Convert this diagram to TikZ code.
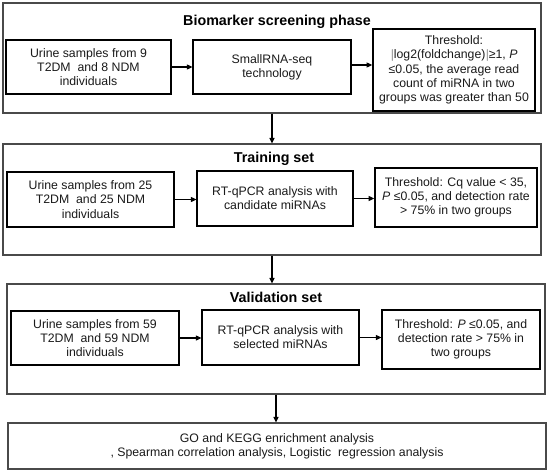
\documentclass[tikz,border=0pt]{standalone}
\usepackage{fontspec}
\setmainfont{Liberation Sans}
\usetikzlibrary{arrows.meta}
\definecolor{outerc}{HTML}{4A4A4A}
\definecolor{txt}{HTML}{1A1A1A}
\begin{document}
\begin{tikzpicture}[x=1pt,y=-1pt,
  outerbox/.style={draw=outerc, line width=1.1pt, inner sep=0pt},
  innerbox/.style={draw=black, line width=1.2pt, inner sep=0pt, align=center, text=txt,
    font=\fontsize{12.3}{14.2}\selectfont},
  thickbox/.style={innerbox, line width=1.7pt},
  phasetitle/.style={font=\bfseries\fontsize{14.3}{16}\selectfont, text=black, inner sep=0pt},
  arr/.style={draw=black, line width=1.1pt, -{Triangle[length=5.5pt,width=5pt]}}
]
\useasboundingbox (0,0) rectangle (550,474);
\fill[white] (0,0) rectangle (550,474);

% ---------- Phase 1 ----------
\node[outerbox, minimum width=538pt, minimum height=110pt] (o1) at (272,58) {};
\node[phasetitle] (t1) at (277,22) {Biomarker screening phase};
\node[innerbox, minimum width=165pt, minimum height=54pt] (a1) at (88.5,67)
  {Urine samples from 9\\T2DM\ \ and 8 NDM\\individuals};
\node[innerbox, minimum width=158pt, minimum height=54pt] (b1) at (272,67)
  {SmallRNA-seq\\technology};
\node[thickbox, minimum width=162pt, minimum height=82pt] (c1) at (454,70)
  {Threshold:\\$|$log2(foldchange)$|$≥1, \textit{P}\\≤0.05, the average read\\count of miRNA in two\\groups was greater than 50};
\draw[arr] (a1.east) -- (a1.east -| b1.west);
\draw[arr] ([yshift=2pt]b1.east) -- ([yshift=2pt]b1.east -| c1.west);

% ---------- Phase 2 ----------
\node[outerbox, minimum width=538pt, minimum height=111pt] (o2) at (272,199.5) {};
\node[phasetitle] (t2) at (274,159) {Training set};
\node[innerbox, minimum width=167pt, minimum height=55pt] (a2) at (90.5,199.5)
  {Urine samples from 25\\T2DM\ \ and 25 NDM\\individuals};
\node[innerbox, minimum width=156pt, minimum height=55pt] (b2) at (275,198.5)
  {RT-qPCR analysis with\\candidate miRNAs};
\node[thickbox, minimum width=162pt, minimum height=59pt] (c2) at (456,197.5)
  {Threshold: Cq value < 35,\\\textit{P} ≤0.05, and detection rate\\> 75\% in two groups};
\draw[arr] (a2.east) -- (a2.east -| b2.west);
\draw[arr] (b2.east) -- (b2.east -| c2.west);

% ---------- Phase 3 ----------
\node[outerbox, minimum width=538pt, minimum height=110pt] (o3) at (276,339) {};
\node[phasetitle] (t3) at (276,297) {Validation set};
\node[innerbox, minimum width=168pt, minimum height=54pt] (a3) at (95,338)
  {Urine samples from 59\\T2DM\ \ and 59 NDM\\individuals};
\node[innerbox, minimum width=157pt, minimum height=55pt] (b3) at (280.5,337.5)
  {RT-qPCR analysis with\\selected miRNAs};
\node[innerbox, minimum width=158pt, minimum height=59pt] (c3) at (461,339.5)
  {Threshold: \textit{P} ≤0.05, and\\detection rate > 75\% in\\two groups};
\draw[arr] (a3.east) -- (a3.east -| b3.west);
\draw[arr] (b3.east) -- (b3.east -| c3.west);

% ---------- Final ----------
\node[innerbox, draw=outerc, line width=1.1pt, minimum width=538pt, minimum height=46pt] (fin) at (277,446)
  {GO and KEGG enrichment analysis\\, Spearman correlation analysis, Logistic\ \ regression analysis};

% ---------- vertical connectors ----------
\draw[arr] (o1.south) -- (o1.south |- o2.north);
\draw[arr] (o2.south) -- (o2.south |- o3.north);
\draw[arr] (o3.south) -- (o3.south |- fin.north);
\end{tikzpicture}
\end{document}
